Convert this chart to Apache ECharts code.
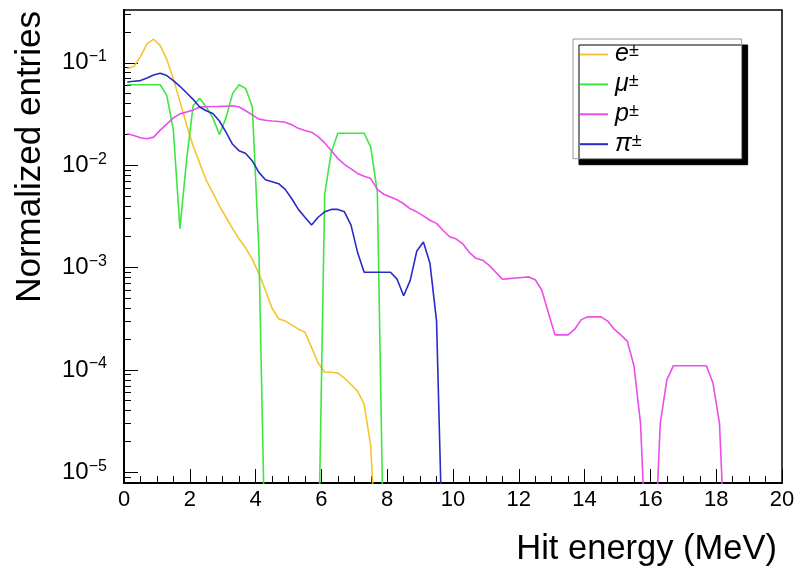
<!DOCTYPE html>
<html><head><meta charset="utf-8">
<script src="https://cdn.jsdelivr.net/npm/echarts@6/dist/echarts.min.js"></script>
<style>html,body{margin:0;padding:0;background:#fff}#c{width:798px;height:567px}</style>
</head><body><div id="c"></div>
<script>
// Bin centres (MeV)
const binCenters = [0.1,0.3,0.5,0.7,0.9,1.1,1.3,1.5,1.7,1.9,2.1,2.3,2.5,2.7,2.9,3.1,3.3,3.5,3.7,3.9,
  4.1,4.3,4.5,4.7,4.9,5.1,5.3,5.5,5.7,5.9,6.1,6.3,6.5,6.7,6.9,7.1,7.3,7.5,7.7,7.9,
  8.1,8.3,8.5,8.7,8.9,9.1,9.3,9.5,9.7,9.9,10.1,10.3,10.5,10.7,10.9,11.1,11.3,11.5,11.7,11.9,
  12.1,12.3,12.5,12.7,12.9,13.1,13.3,13.5,13.7,13.9,14.1,14.3,14.5,14.7,14.9,15.1,15.3,15.5,15.7,15.9,
  16.1,16.3,16.5,16.7,16.9,17.1,17.3,17.5,17.7,17.9,18.1,18.3,18.5];

const electronValues = [0.088,0.092,0.115,0.153,0.170,0.147,0.108,0.070,0.042,0.025,
  0.0155,0.0105,0.0071,0.0054,0.0040,0.0031,0.0024,0.0019,0.00155,0.0012,
  0.00087,0.0006,0.0004,0.000316,0.0003,0.000275,0.00025,0.000234,0.000166,0.000117,
  0.000095,0.000095,0.000093,0.000083,0.000072,0.000062,0.000046,0.000018,0];

const muonValues = [0.061,0.061,0.061,0.061,0.061,0.061,0.048,0.022,0.0024,0.011,
  0.038,0.045,0.037,0.029,0.020,0.029,0.050,0.061,0.056,0.037,
  0.0015,0,0,0,0,0,0,0,0,0,
  0.0052,0.0134,0.0205,0.0205,0.0205,0.0205,0.0205,0.015,0.0055,0,0];

const protonValues = [0.0203,0.0195,0.0185,0.0181,0.0188,0.022,0.0252,0.029,0.0317,0.033,
  0.0345,0.037,0.0372,0.0374,0.0375,0.0377,0.038,0.037,0.034,0.031,
  0.0282,0.0275,0.027,0.0267,0.0263,0.0248,0.0229,0.0218,0.021,0.019,
  0.0165,0.0139,0.0116,0.0102,0.0092,0.0083,0.0078,0.0074,0.0058,0.0052,
  0.0049,0.0046,0.0042,0.00375,0.0035,0.0032,0.0029,0.0027,0.0023,0.0020,
  0.0019,0.0017,0.0014,0.00123,0.00118,0.00105,0.0009,0.00077,0.00078,0.00079,
  0.0008,0.00081,0.00076,0.0006,0.00036,0.00022,0.00022,0.00022,0.00025,0.00031,
  0.00033,0.00033,0.00033,0.0003,0.00025,0.00022,0.00019,0.00011,0.00003,0,
  0,0.00003,0.00008,0.00011,0.00011,0.00011,0.00011,0.00011,0.00011,0.000075,
  0.00003,0,0];

const pionValues = [0.065,0.066,0.067,0.071,0.076,0.079,0.075,0.067,0.059,0.051,
  0.044,0.037,0.034,0.032,0.027,0.021,0.016,0.0138,0.013,0.011,
  0.0085,0.0072,0.0069,0.0066,0.0058,0.0047,0.0037,0.0031,0.0026,0.0031,
  0.0035,0.0037,0.0037,0.0035,0.0026,0.0014,0.0009,0.0009,0.0009,0.0009,
  0.0009,0.00077,0.00053,0.00075,0.00145,0.00178,0.0011,0.0003,0,0];

const seriesNames = ['e', 'μ', 'p', 'π'];
const seriesColors = ['#f4c531', '#3fe63f', '#ea4dea', '#2a2ac8'];
const seriesValues = [electronValues, muonValues, protonValues, pionValues];

const xTickLabels = [0,2,4,6,8,10,12,14,16,18,20];
const yMajorTicks = [1e-5,1e-4,1e-3,1e-2,1e-1];
const yMinorTicks = [8e-6,9e-6,
  2e-5,3e-5,4e-5,5e-5,6e-5,7e-5,8e-5,9e-5,
  2e-4,3e-4,4e-4,5e-4,6e-4,7e-4,8e-4,9e-4,
  2e-3,3e-3,4e-3,5e-3,6e-3,7e-3,8e-3,9e-3,
  2e-2,3e-2,4e-2,5e-2,6e-2,7e-2,8e-2,9e-2,
  0.2,0.3];

const Y_MIN = 7.86e-6, Y_MAX = 0.328;
const FLOOR = 1e-6; // empty bins drawn below the frame (log scale)
const lg = v => Math.log10(v > 0 ? v : FLOOR);
const FONT = '"Liberation Sans", Arial, Helvetica, sans-serif';

const series = seriesNames.map((n, k) => ({
  name: n, type: 'line', symbol: 'none', showSymbol: false, clip: true,
  yAxisIndex: 0, xAxisIndex: 0,
  lineStyle: {color: seriesColors[k], width: 1.6},
  itemStyle: {color: seriesColors[k]},
  data: seriesValues[k].map((v, i) => [binCenters[i], lg(v)])
}));

const chart = echarts.init(document.getElementById('c'), null, {renderer: 'canvas'});
chart.setOption({
  animation: false,
  backgroundColor: '#fff',
  grid: {left: 124, right: 16, top: 10, bottom: 84, show: true, borderColor: '#000', borderWidth: 1.5, backgroundColor: 'transparent'},
  xAxis: {
    type: 'value', min: 0, max: 20, interval: 2,
    axisLine: {show: true, onZero: false, lineStyle: {color: '#000', width: 2}},
    axisTick: {show: true, inside: true, length: 14, lineStyle: {color: '#000', width: 1}},
    minorTick: {show: true, splitNumber: 4, length: 7, lineStyle: {color: '#000', width: 1}},
    splitLine: {show: false},
    axisLabel: {color: '#000', fontFamily: FONT, fontSize: 22, margin: 6,
      formatter: v => String(xTickLabels[xTickLabels.indexOf(v)] ?? v)}
  },
  yAxis: [{
    type: 'value', min: lg(Y_MIN), max: lg(Y_MAX),
    axisLine: {show: true, onZero: false, lineStyle: {color: '#000', width: 2}},
    axisTick: {show: true, inside: true, length: 14, lineStyle: {color: '#000', width: 1},
      customValues: yMajorTicks.map(lg)},
    splitLine: {show: false},
    axisLabel: {
      customValues: yMajorTicks.map(lg), align: 'left', margin: 62,
      formatter: v => '{b|10}{s|−' + Math.round(-v) + '}',
      rich: {
        b: {fontFamily: FONT, fontSize: 24, color: '#000', lineHeight: 28},
        s: {fontFamily: FONT, fontSize: 16, color: '#000', verticalAlign: 'top', lineHeight: 16}
      }
    }
  }, {
    type: 'value', min: lg(Y_MIN), max: lg(Y_MAX), position: 'left',
    axisLine: {show: false},
    axisTick: {show: true, inside: true, length: 7, lineStyle: {color: '#000', width: 1},
      customValues: yMinorTicks.map(lg)},
    axisLabel: {show: false},
    splitLine: {show: false}
  }],
  legend: {
    show: true,
    orient: 'vertical', left: 573, top: 39,
    data: seriesNames,
    icon: 'rect',
    itemWidth: 28, itemHeight: 2, itemGap: 4.9,
    padding: [3, 100, 2, 7],
    backgroundColor: '#fff', borderColor: '#999', borderWidth: 1,
    shadowColor: '#000', shadowBlur: 0, shadowOffsetX: 6, shadowOffsetY: 6,
    formatter: n => '{i|' + n + '}{p|±}',
    textStyle: {
      lineHeight: 24,
      rich: {
        i: {fontFamily: FONT, fontStyle: 'italic', fontSize: 25, color: '#000', padding: [0,0,0,2], lineHeight: 24},
        p: {fontFamily: FONT, fontSize: 18, color: '#000', verticalAlign: 'top', lineHeight: 14}
      }
    }
  },
  graphic: [
    {type: 'text', x: 30, y: 11, rotation: Math.PI / 2,
     style: {text: 'Normalized entries', font: '35px ' + FONT, fill: '#000', align: 'right', verticalAlign: 'middle'}},
    {type: 'text', x: 777, y: 549,
     style: {text: 'Hit energy (MeV)', font: '34.5px ' + FONT, fill: '#000', align: 'right', verticalAlign: 'middle'}}
  ],
  series: series
});
</script></body></html>
